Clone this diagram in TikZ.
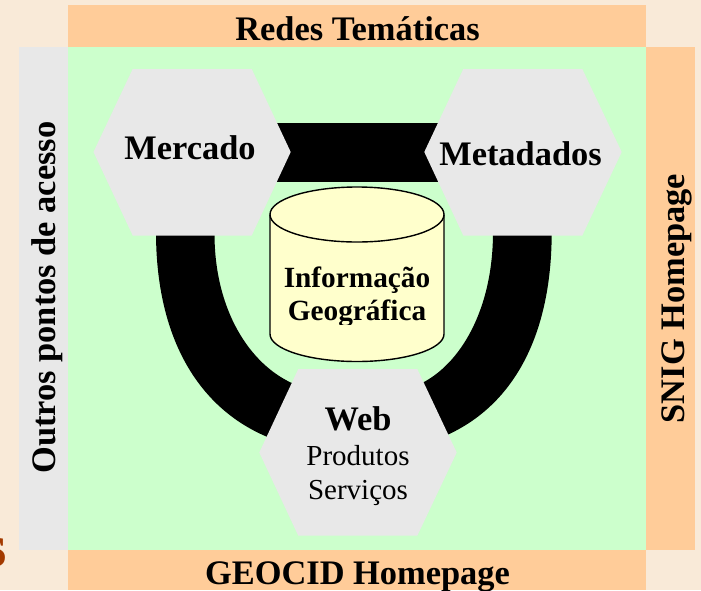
\documentclass[tikz,border=0pt]{standalone}
\usepackage{fontspec}
\setmainfont{Liberation Serif}
\definecolor{pagebg}{HTML}{F9EAD8}
\definecolor{peach}{HTML}{FFCC99}
\definecolor{mint}{HTML}{CCFFCC}
\definecolor{hexgray}{HTML}{E8E8E8}
\definecolor{cream}{HTML}{FFFFCC}
\definecolor{rust}{HTML}{A33A00}
\newcommand{\fbig}{\fontsize{34.4}{36}\selectfont\bfseries}
\newcommand{\fmid}{\fontsize{29.3}{31}\selectfont\bfseries}
\newcommand{\freg}{\fontsize{29}{31}\selectfont}
\tikzset{
  txt/.style={anchor=base,inner sep=0pt,outer sep=0pt,text=black},
  hexa/.style={fill=hexgray,draw=none},
  band/.style={fill=black,draw=none}
}
\begin{document}
\begin{tikzpicture}[x=1pt,y=-1pt]
\useasboundingbox (0,0) rectangle (701,590);
\clip (0,0) rectangle (701,590);
\fill[pagebg] (0,0) rectangle (701,590);
\fill[peach] (68,5) rectangle (646,47);
\fill[mint] (68,47) rectangle (646,550);
\fill[hexgray] (19,47) rectangle (68,550);
\fill[peach] (646,47) rectangle (695,550);
\fill[peach] (68,550) rectangle (646,590);
\node[txt,text=rust] (mark) at (-4.5,566.5) {\fontsize{60}{62}\selectfont\bfseries s};
% connectors
\fill[band] (277,122.7) rectangle (438,181.7);
\fill[band] (156,232) .. controls (156,340) and (200,410) .. (270,438) -- (294,384)
  .. controls (250,365) and (214,310) .. (214.5,232) -- cycle;
\fill[band] (551.7,232) .. controls (551.7,340) and (510,410) .. (440,438) -- (420,384)
  .. controls (460,365) and (493,310) .. (493,232) -- cycle;
% hexagons
\fill[hexa] (93.5,152) -- (132.7,69) -- (251.7,69) -- (290.7,152) -- (251.7,235.5) -- (132.7,235.5) -- cycle;
\fill[hexa] (424.3,152) -- (463.3,69) -- (582.3,69) -- (621.7,152) -- (582.3,235.5) -- (463.3,235.5) -- cycle;
\fill[hexa] (259.3,452.5) -- (298.3,369) -- (417.3,369) -- (456.7,452.5) -- (417.3,535.7) -- (298.3,535.7) -- cycle;
% cylinder
\draw[fill=cream,line width=1.4pt] (270,214.5) -- (270,334) arc[start angle=180,end angle=0,x radius=87,y radius=27.5]
  -- (444,214.5) arc[start angle=0,end angle=-180,x radius=87,y radius=27.5] -- cycle;
\draw[line width=1.4pt] (270,214.5) arc[start angle=180,end angle=0,x radius=87,y radius=27.5];
% texts
\node[txt] (redes) at (357.5,40) {\fbig Redes Temáticas};
\node[txt] (geocid) at (357.5,584) {\fbig GEOCID Homepage};
\node[txt,rotate=90] (outros) at (55,297.5) {\fbig Outros pontos de acesso};
\node[txt,rotate=90] (snig) at (684,298.5) {\fbig SNIG Homepage};
\node[txt] (mercado) at (190,159) {\fbig Mercado};
\node[txt] (metadados) at (520.5,165) {\fbig Metadados};
\node[txt] (info) at (357,287) {\fmid Informação};
\begin{scope}
\clip (270,290) rectangle (444,324);
\node[txt] (geo) at (357,320) {\fmid Geográfica};
\end{scope}
\node[txt] (web) at (358,430) {\fbig Web};
\node[txt] (produtos) at (358,465) {\freg Produtos};
\node[txt] (servicos) at (358,499) {\freg Serviços};
\end{tikzpicture}
\end{document}
